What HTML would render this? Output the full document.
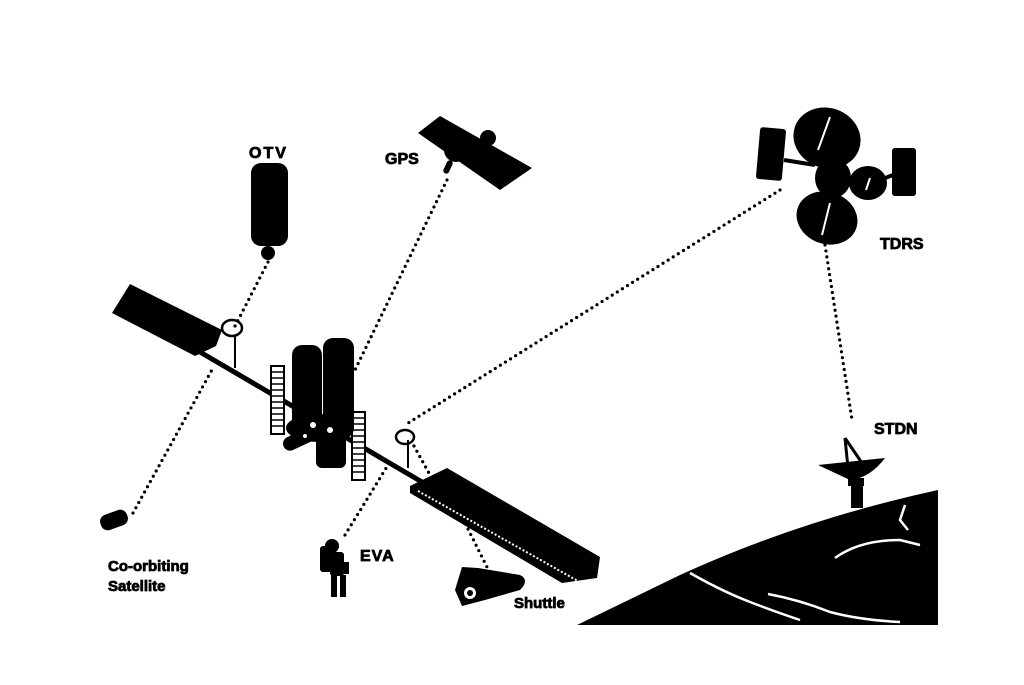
<!DOCTYPE html>
<html><head><meta charset="utf-8"><style>
html,body{margin:0;padding:0;background:#fff;}
svg{display:block}
text{font-family:"Liberation Sans",sans-serif;font-weight:bold;fill:#000;stroke:#000;stroke-width:0.8}
</style></head><body>
<svg width="1024" height="685" viewBox="0 0 1024 685" xmlns="http://www.w3.org/2000/svg">
<g stroke="#000" stroke-width="3.2" stroke-linecap="round" stroke-dasharray="0 6" fill="none">
<line x1="268" y1="262" x2="233" y2="330"/>
<line x1="447" y1="180" x2="355" y2="370"/>
<line x1="780" y1="190" x2="405" y2="425"/>
<line x1="825" y1="245" x2="852" y2="420"/>
<line x1="133" y1="513" x2="213" y2="368"/>
<line x1="345" y1="535" x2="388" y2="465"/>
<line x1="460" y1="513" x2="490" y2="573"/>
<line x1="414" y1="446" x2="430" y2="475"/>
</g>
<!-- Earth -->
<path d="M577 625 L680 575 Q800 520 938 490 L938 625 Z" fill="#000"/>
<g stroke="#fff" stroke-width="2.5" fill="none">
<path d="M690 573 Q720 590 745 600 Q770 610 800 620"/>
<path d="M768 594 Q800 600 830 612 Q860 620 900 622"/>
<path d="M835 558 Q860 540 900 540 L920 545"/>
<path d="M905 505 L900 520 L908 530"/>
</g>
<!-- STDN dish -->
<path d="M818 465 L885 458 Q870 478 850 480 Z" fill="#000"/>
<path d="M845 438 L848 468 M845 438 L862 463" stroke="#000" stroke-width="3" fill="none"/>
<rect x="848" y="478" width="16" height="8" fill="#000"/>
<rect x="851" y="486" width="12" height="22" fill="#000"/>
<!-- TDRS -->
<g fill="#000">
<rect x="758" y="128" width="26" height="52" rx="3" transform="rotate(5 771 154)"/>
<rect x="892" y="148" width="24" height="48" rx="3"/>
<line x1="784" y1="160" x2="815" y2="165" stroke="#000" stroke-width="4"/>
<line x1="880" y1="180" x2="893" y2="175" stroke="#000" stroke-width="4"/>
<ellipse cx="827" cy="138" rx="34" ry="30" transform="rotate(20 827 138)"/>
<ellipse cx="833" cy="178" rx="18" ry="20"/>
<ellipse cx="868" cy="183" rx="19" ry="17"/>
<ellipse cx="827" cy="218" rx="31" ry="26" transform="rotate(20 827 218)"/>
</g>
<g stroke="#fff" stroke-width="2" fill="none">
<line x1="830" y1="117" x2="818" y2="150"/><line x1="830" y1="203" x2="822" y2="235"/><line x1="870" y1="178" x2="866" y2="190"/>
</g>
<!-- GPS -->
<polygon points="418,133 440,116 532,168 500,190" fill="#000"/>
<circle cx="456" cy="150" r="12" fill="#000"/>
<circle cx="488" cy="138" r="8" fill="#000"/>
<rect x="445" y="160" width="6" height="14" rx="3" fill="#000" transform="rotate(25 448 167)"/>
<!-- OTV -->
<rect x="251" y="163" width="37" height="83" rx="10" fill="#000"/>
<circle cx="268" cy="253" r="7" fill="#000"/>
<!-- Left solar panel -->
<polygon points="130,284 222,330 216,346 195,356 112,313" fill="#000"/>
<!-- truss -->
<line x1="200" y1="352" x2="422" y2="482" stroke="#000" stroke-width="5"/>
<line x1="235" y1="335" x2="235" y2="368" stroke="#000" stroke-width="2"/>
<line x1="408" y1="440" x2="408" y2="468" stroke="#000" stroke-width="2"/>
<ellipse cx="232" cy="328" rx="10" ry="8" fill="none" stroke="#000" stroke-width="2.5"/>
<ellipse cx="405" cy="437" rx="9" ry="7" fill="none" stroke="#000" stroke-width="2.5"/>
<!-- Right solar panel -->
<polygon points="410,486 447,468 600,557 597,578 562,583 410,493" fill="#000"/>
<line x1="418" y1="491" x2="585" y2="585" stroke="#fff" stroke-width="2" stroke-dasharray="2 2"/>
<!-- radiators -->
<g stroke="#000" stroke-width="2">
<rect x="271" y="366" width="13" height="68" fill="#fff"/>
<rect x="352" y="412" width="13" height="68" fill="#fff"/>
</g>
<g stroke="#000" stroke-width="1.5">
<path d="M271 372h13M271 378h13M271 384h13M271 390h13M271 396h13M271 402h13M271 408h13M271 414h13M271 420h13M271 426h13"/>
<path d="M352 418h13M352 424h13M352 430h13M352 436h13M352 442h13M352 448h13M352 454h13M352 460h13M352 466h13M352 472h13"/>
</g>
<!-- modules -->
<rect x="292" y="345" width="30" height="92" rx="10" fill="#000"/>
<rect x="323" y="338" width="31" height="100" rx="10" fill="#000"/>
<rect x="316" y="430" width="30" height="38" rx="6" fill="#000"/>
<ellipse cx="318" cy="428" rx="32" ry="14" fill="#000"/>
<rect x="282" y="432" width="35" height="14" rx="7" fill="#000" transform="rotate(-25 300 439)"/>
<circle cx="313" cy="425" r="3" fill="#fff"/><circle cx="330" cy="430" r="3" fill="#fff"/><circle cx="305" cy="436" r="2" fill="#fff"/>
<!-- co-orbiting satellite -->
<rect x="100" y="512" width="28" height="16" rx="7" fill="#000" transform="rotate(-20 114 520)"/>
<!-- EVA -->
<g fill="#000">
<circle cx="332" cy="546" r="7"/>
<rect x="320" y="546" width="12" height="26" rx="3"/>
<rect x="330" y="552" width="14" height="24" rx="3"/>
<rect x="331" y="575" width="6" height="22"/>
<rect x="340" y="575" width="6" height="22"/>
<rect x="344" y="562" width="5" height="12"/>
</g>
<!-- Shuttle -->
<path d="M462 567 L478 568 L520 575 Q530 580 520 590 L485 600 L462 606 L455 590 Z" fill="#000"/>
<circle cx="470" cy="593" r="6" fill="#fff"/><circle cx="470" cy="593" r="3" fill="#000"/>
<!-- labels -->
<text x="249" y="158" font-size="16" letter-spacing="2">OTV</text>
<text x="385" y="164" font-size="16">GPS</text>
<text x="880" y="249" font-size="16">TDRS</text>
<text x="874" y="434" font-size="16">STDN</text>
<text x="108" y="571" font-size="15">Co-orbiting</text>
<text x="108" y="591" font-size="15">Satellite</text>
<text x="360" y="561" font-size="16" letter-spacing="1">EVA</text>
<text x="514" y="608" font-size="15">Shuttle</text>
</svg>
</body></html>
